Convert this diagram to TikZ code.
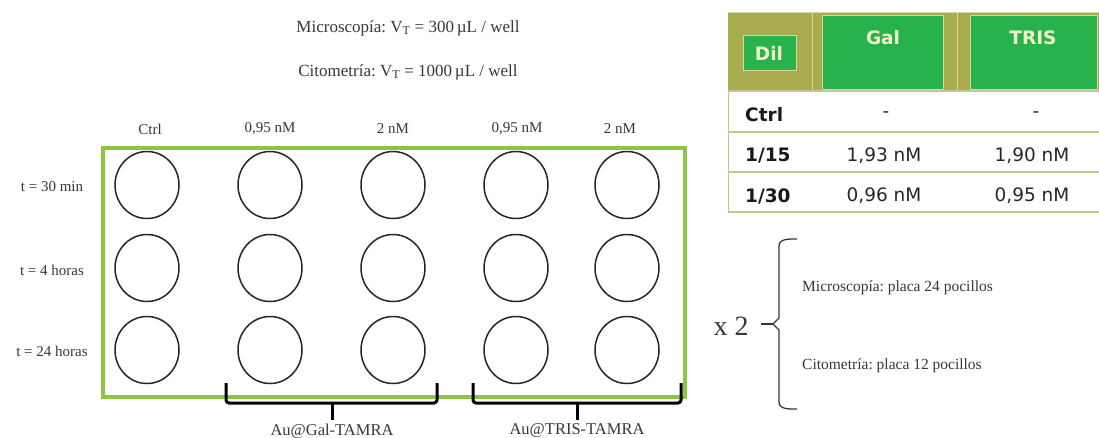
\documentclass[tikz,border=0pt]{standalone}
\usepackage{fontspec}
\setmainfont{Liberation Serif}
\newfontfamily\tabfont{DejaVu Sans}
\usetikzlibrary{shapes.geometric}
\definecolor{rectgreen}{RGB}{140,198,63}
\definecolor{olivebg}{RGB}{168,172,78}
\definecolor{hdrgreen}{RGB}{40,178,75}
\definecolor{creamtxt}{RGB}{240,244,205}
\definecolor{creamline}{RGB}{214,218,150}
\definecolor{rowline}{RGB}{196,200,140}
\definecolor{txt}{RGB}{55,55,55}
\frenchspacing
\begin{document}
\begin{tikzpicture}[x=1pt,y=-1pt,
  well/.style={ellipse, draw=black!85, line width=1.5pt, minimum width=64pt, minimum height=67pt, inner sep=0pt},
  lbl/.style={font=\fontsize{15}{18}\selectfont, text=txt, inner sep=0pt},
  toptxt/.style={font=\fontsize{17}{20}\selectfont, text=txt, inner sep=0pt},
  grp/.style={font=\fontsize{16.5}{19}\selectfont, text=txt, inner sep=0pt},
  bracketline/.style={draw=black, line width=3pt, rounded corners=3pt},
  bracemark/.style={draw=txt, line width=1.3pt},
  hdrcell/.style={fill=hdrgreen, draw=creamline, line width=0.8pt},
  hdrtxt/.style={font=\tabfont\bfseries\fontsize{18.5}{22}\selectfont, text=creamtxt, inner sep=0pt},
  tabbold/.style={font=\tabfont\bfseries\fontsize{18.5}{22}\selectfont, text=black!90, inner sep=0pt, anchor=west},
  tabval/.style={font=\tabfont\fontsize{18.5}{22}\selectfont, text=black!85, inner sep=0pt},
  tabrule/.style={draw=rowline, line width=2pt}
]
\useasboundingbox (0,0) rectangle (1099,437);

% top texts
\node[toptxt] (mic) at (408,28) {Microscopía: V\textsubscript{T} = 300\,µL / well};
\node[toptxt] (cit) at (408,72) {Citometría: V\textsubscript{T} = 1000\,µL / well};

% plate frame
\draw[draw=rectgreen, line width=3.5pt] (103,148) rectangle (685,397);

% column labels
\node[lbl] (c1) at (150,129) {Ctrl};
\node[lbl] (c2) at (270,129) {0,95 nM};
\node[lbl] (c3) at (393,129) {2 nM};
\node[lbl] (c4) at (517,129) {0,95 nM};
\node[lbl] (c5) at (620,129) {2 nM};

% row labels
\node[lbl] (r1) at (52,187) {t = 30 min};
\node[lbl] (r2) at (52,270) {t = 4 horas};
\node[lbl] (r3) at (52,351) {t = 24 horas};

% wells
\foreach \i/\x in {1/147,2/270,3/393,4/516,5/627}{
  \foreach \j/\y in {1/185,2/268,3/350}{
    \node[well] (w\j\i) at (\x,\y) {};
  }
}

% group brackets
\coordinate (ga) at (226,383);
\coordinate (gb) at (437,383);
\coordinate (gm) at (332,403);
\coordinate (gt) at (332,420);
\draw[bracketline] (ga) -- (226,403) -- (437,403) -- (gb);
\draw[draw=black, line width=3pt] (gm) -- (gt);
\node[grp] (galtxt) at (332,431) {Au@Gal-TAMRA};

\coordinate (ta) at (473,383);
\coordinate (tb) at (681,383);
\coordinate (tm) at (577,403);
\coordinate (tt) at (577,420);
\draw[bracketline] (ta) -- (473,403) -- (681,403) -- (tb);
\draw[draw=black, line width=3pt] (tm) -- (tt);
\node[grp] (tristxt) at (577,431) {Au@TRIS-TAMRA};

% x 2 and brace
\node[font=\fontsize{28}{32}\selectfont, text=txt, inner sep=0pt] (x2) at (731,326) {x 2};
\coordinate (bp) at (773,324);
\draw[bracemark] (761,324) -- (bp);
\draw[bracemark] (797,239) to[out=180,in=90] (779,246) -- (779,318) -- (bp) -- (779,330) -- (779,402) to[out=-90,in=180] (797,409);
\node[lbl, font=\fontsize{15.5}{18}\selectfont, anchor=west] (mp) at (802,288) {Microscopía: placa 24 pocillos};
\node[lbl, font=\fontsize{15.5}{18}\selectfont, anchor=west] (cp) at (802,366) {Citometría: placa 12 pocillos};

% table header
\fill[olivebg] (728,12) rectangle (1099,90);
\draw[draw=creamline, line width=0.8pt] (728,12.5) -- (1099,12.5);
\draw[draw=creamline, line width=0.8pt] (812,12) -- (812,90);
\draw[draw=creamline, line width=0.8pt] (957,12) -- (957,90);
\draw[hdrcell] (743,35) rectangle (796,70);
\draw[hdrcell] (822,15) rectangle (943,89);
\draw[hdrcell] (970,15) rectangle (1097,89);
\node[hdrtxt] (hdil) at (769,53) {Dil};
\node[hdrtxt] (hgal) at (883,38) {Gal};
\node[hdrtxt] (htris) at (1033,38) {TRIS};

% table body
\draw[tabrule] (728,91) -- (1099,91);
\draw[tabrule] (728,132) -- (1099,132);
\draw[tabrule] (728,172) -- (1099,172);
\draw[tabrule] (728,212) -- (1099,212);
\draw[draw=rowline, line width=1.5pt] (728.5,90) -- (728.5,212);

\node[tabbold] (rc) at (745,115) {Ctrl};
\node[tabbold] (r15) at (745,156) {1/15};
\node[tabbold] (r30) at (745,196) {1/30};
\node[tabval] (vc1) at (886,115) {-};
\node[tabval] (vc2) at (1036,115) {-};
\node[tabval] (v151) at (884,156) {1,93 nM};
\node[tabval] (v152) at (1032,156) {1,90 nM};
\node[tabval] (v301) at (884,196) {0,96 nM};
\node[tabval] (v302) at (1032,196) {0,95 nM};
\end{tikzpicture}
\end{document}
